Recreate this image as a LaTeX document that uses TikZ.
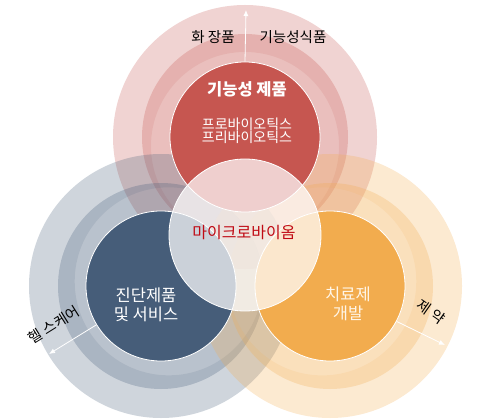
\documentclass[tikz,border=0pt]{standalone}
\usepackage{fontspec}
\setmainfont{Noto Sans CJK KR}
\usetikzlibrary{arrows.meta}
\definecolor{funcred}{RGB}{198,86,80}
\definecolor{diagblue}{RGB}{70,93,121}
\definecolor{therorange}{RGB}{242,172,78}
\definecolor{microred}{RGB}{192,10,20}
\definecolor{cream}{RGB}{255,246,232}
\tikzset{
  core/.style={circle,draw=white,line width=0.8pt,minimum size=150pt,inner sep=0pt},
  outlabel/.style={font=\fontsize{14.5}{16}\selectfont},
  inlabel/.style={text=white,align=center,font=\fontsize{16.5}{19}\selectfont},
  ray/.style={white,line width=0.8pt,-{Latex[length=6pt,width=5pt]}},
}
\begin{document}
\begin{tikzpicture}[x=1pt,y=1pt]
  \useasboundingbox (0,0) rectangle (486,418);
  % rings of the three fields, a little darker on the far side
  \foreach \cx/\cy/\vx/\vy/\col in {245/281/0/-1/funcred,161/132/0.855/0.519/diagblue,330/132/-0.857/0.514/therorange} {
    \fill[\col,fill opacity=0.26] (\cx,\cy) circle (132pt);
    \fill[\col,fill opacity=0.16] (\cx,\cy) circle (103pt);
    \fill[\col,fill opacity=0.13,even odd rule] (\cx,\cy) circle (103pt)
         ({\cx+9*(\vx)},{\cy+9*(\vy)}) circle (94pt);
  }
  \node[core,fill=funcred] (func) at (245,281) {};
  \node[core,fill=diagblue] (diag) at (161,132) {};
  \node[core,fill=therorange] (ther) at (330,132) {};
  \node[core,fill=white,fill opacity=0.72,minimum size=152pt] (micro) at (245,183) {};

  \node[inlabel,font=\bfseries\fontsize{16.5}{19}\selectfont] (functitle) at (247,329) {기능성 제품};
  \node[inlabel,font=\fontsize{14}{13.5}\selectfont] (biotics) at (247,287) {프로바이오틱스\\프리바이오틱스};
  \node[text=microred,font=\fontsize{16}{19}\selectfont] (microlbl) at (244,185) {마이크로바이옴};
  \node[inlabel] (diaglbl) at (146,113) {진단제품\\및 서비스};
  \node[inlabel,text=cream] (therlbl) at (348,114) {치료제\\개발};

  \coordinate (cosm) at (246,408);
  \draw[ray] (func.north) -- (cosm);
  \node[outlabel] (cosmlbl) at (213,381) {화 장품};
  \node[outlabel] (foodlbl) at (293,381) {기능성식품};
  \coordinate (health) at (49,64);
  \draw[ray] (diag.211) -- (health);
  \node[outlabel,rotate=32] (healthlbl) at (54,93) {헬 스케어};
  \coordinate (pharma) at (445,73);
  \draw[ray] (ther.332) -- (pharma);
  \node[outlabel,rotate=-35] (pharmalbl) at (431,106) {제 약};
\end{tikzpicture}
\end{document}
